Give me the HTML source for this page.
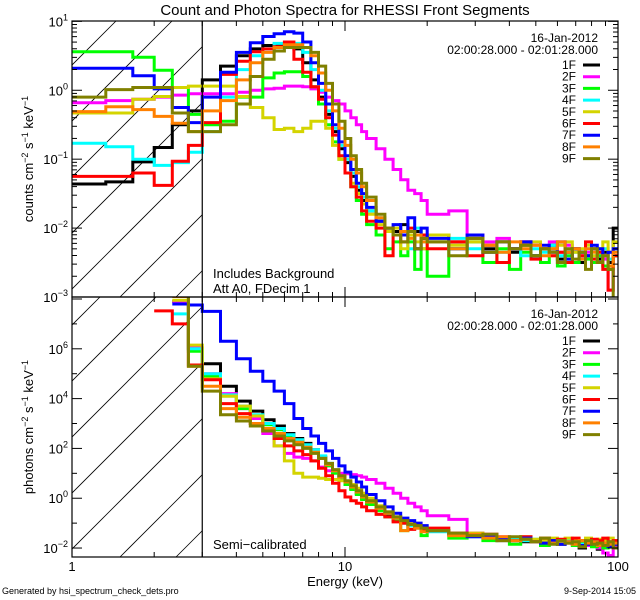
<!DOCTYPE html>
<html><head><meta charset="utf-8"><style>
html,body{margin:0;padding:0;background:#fff;}
svg{display:block;font-family:"Liberation Sans",sans-serif;}
</style></head><body>
<svg id="chart" width="640" height="600" viewBox="0 0 640 600" xmlns="http://www.w3.org/2000/svg">
<defs>
<clipPath id="clipTop"><rect x="72" y="21" width="546" height="276"/></clipPath>
<clipPath id="clipBot"><rect x="72" y="297" width="546" height="260"/></clipPath>
</defs>
<rect width="640" height="600" fill="#fff"/>
<text x="345" y="15" font-size="15" text-anchor="middle">Count and Photon Spectra for RHESSI Front Segments</text>
<g id="hatchTop" clip-path="url(#clipTop)"></g>
<g id="hatchBot" clip-path="url(#clipBot)"></g>
<g id="seriesTop" clip-path="url(#clipTop)"></g>
<g id="seriesBot" clip-path="url(#clipBot)"></g>
<g id="axes"></g>
<text transform="translate(33,159) rotate(-90)" font-size="13" text-anchor="middle">counts cm<tspan dy="-5" font-size="9">−2</tspan><tspan dy="5"> s</tspan><tspan dy="-5" font-size="9">−1</tspan><tspan dy="5"> keV</tspan><tspan dy="-5" font-size="9">−1</tspan></text>
<text transform="translate(33,427) rotate(-90)" font-size="13" text-anchor="middle">photons cm<tspan dy="-5" font-size="9">−2</tspan><tspan dy="5"> s</tspan><tspan dy="-5" font-size="9">−1</tspan><tspan dy="5"> keV</tspan><tspan dy="-5" font-size="9">−1</tspan></text>
<text x="345" y="586" font-size="13" text-anchor="middle">Energy (keV)</text>
<text x="213" y="278" font-size="13">Includes Background</text>
<text x="213" y="293" font-size="13">Att A0, FDecim 1</text>
<text x="213" y="549" font-size="13">Semi−calibrated</text>
<text x="2" y="594" font-size="9">Generated by hsi_spectrum_check_dets.pro</text>
<text x="636" y="594" font-size="9" text-anchor="end">9-Sep-2014 15:05</text>
</svg>
<script>
const edges = [1,1.33,1.67,2,2.33,2.67,3,3.5,4,4.5,5,5.5,6,6.5,7,7.5,8,8.5,9,9.5,10,10.5,11,11.5,12,13,14,15,16,17,18,19,20,24,28,32,36,40,44,48,52,56,60,64,68,72,76,80,84,88,92,96,100];
const detNames = ["1F","2F","3F","4F","5F","6F","7F","8F","9F"];
const detColors = ["#000000","#ff00ff","#00ff00","#00ffff","#d4d400","#ff0000","#0000ff","#ff8000","#808000"];
// log10 counts
const cnt1F = [-1.36,-1.33,-1.04,-0.83,-0.5,-0.3,0.15,0.35,0.5,0.6,0.65,0.66,0.66,0.6,0.4,0.15,-0.1,-0.35,-0.6,-0.85,-1.05,-1.25,-1.45,-1.6,-1.75,-1.9,-2.0,-2.05,-1.95,-2.1,-2.05,-2.15,-2.1,-2.2,-2.15,-2.3,-2.2,-2.35,-2.25,-2.4,-2.3,-2.25,-2.45,-2.35,-2.3,-2.5,-2.4,-2.3,-2.45,-2.35,-2.5,-2.0];
const cnt2F = [-0.18,-0.15,-0.13,-0.1,-0.07,-0.05,-0.05,-0.05,-0.03,0.0,0.02,0.03,0.06,0.06,0.05,0.02,-0.03,-0.1,-0.15,-0.2,-0.3,-0.4,-0.5,-0.6,-0.7,-0.85,-1.0,-1.15,-1.3,-1.45,-1.5,-1.6,-1.8,-1.75,-2.1,-2.2,-2.15,-2.3,-2.2,-2.25,-2.3,-2.2,-2.35,-2.25,-2.3,-2.4,-2.35,-2.3,-2.4,-2.45,-2.9,-2.4];
const cnt3F = [0.56,0.56,0.48,0.29,0.04,-0.35,-0.5,-0.45,-0.1,-0.1,0.18,0.25,0.27,0.27,0.2,0.05,-0.2,-0.5,-0.75,-1.0,-1.2,-1.4,-1.6,-1.8,-1.95,-2.1,-2.3,-2.2,-2.4,-2.2,-2.6,-2.3,-2.7,-2.3,-2.2,-2.5,-2.3,-2.6,-2.35,-2.4,-2.5,-2.3,-2.55,-2.4,-2.5,-2.35,-2.45,-2.5,-2.4,-2.55,-2.6,-2.4];
const cnt4F = [-0.77,-0.82,-1.0,-1.09,-1.05,-0.9,-0.6,-0.1,0.3,0.5,0.6,0.68,0.68,0.68,0.55,0.3,0.0,-0.3,-0.55,-0.8,-1.0,-1.2,-1.4,-1.55,-1.75,-1.85,-2.0,-2.1,-2.05,-2.3,-2.0,-2.2,-2.2,-2.15,-2.3,-2.25,-2.35,-2.3,-2.4,-2.3,-2.35,-2.25,-2.4,-2.3,-2.35,-2.45,-2.3,-2.4,-2.35,-2.3,-2.45,-2.3];
const cnt5F = [-0.33,-0.33,-0.13,-0.09,0.04,0.06,0.06,0.06,-0.09,-0.25,-0.4,-0.57,-0.55,-0.6,-0.55,-0.45,-0.45,-0.55,-0.8,-1.0,-1.2,-1.35,-1.5,-1.65,-1.8,-1.95,-2.05,-2.0,-2.3,-2.1,-2.2,-2.3,-2.1,-2.25,-2.2,-2.35,-2.2,-2.3,-2.25,-2.2,-2.3,-2.4,-2.25,-2.2,-2.35,-2.3,-2.25,-2.4,-2.3,-2.2,-2.35,-2.2];
const cnt6F = [-1.25,-1.25,-1.2,-1.38,-1.03,-0.8,-0.47,0.23,0.42,0.56,0.6,0.63,0.7,0.45,0.26,0.05,-0.13,-0.4,-0.65,-0.95,-1.2,-1.4,-1.55,-1.75,-1.9,-2.0,-2.4,-2.1,-2.2,-2.0,-2.3,-2.1,-2.3,-2.2,-2.4,-2.25,-2.5,-2.3,-2.2,-2.45,-2.3,-2.4,-2.35,-2.5,-2.3,-2.4,-2.2,-2.45,-2.35,-2.6,-2.9,-2.4];
const cnt7F = [0.32,0.32,0.21,0.02,-0.25,-0.47,-0.1,0.26,0.55,0.69,0.78,0.82,0.85,0.83,0.7,0.4,0.1,-0.2,-0.5,-0.75,-0.95,-1.15,-1.35,-1.5,-1.7,-1.9,-2.0,-1.95,-2.1,-1.85,-2.3,-2.0,-2.15,-2.3,-2.1,-2.35,-2.2,-2.3,-2.2,-2.4,-2.25,-2.35,-2.2,-2.45,-2.3,-2.35,-2.4,-2.25,-2.3,-2.4,-2.35,-2.3];
const cnt8F = [-0.31,-0.24,-0.28,-0.38,-0.48,-0.6,-0.3,-0.15,0.15,0.4,0.55,0.62,0.66,0.66,0.62,0.5,0.25,0.0,-0.3,-0.55,-0.8,-1.0,-1.2,-1.4,-1.6,-1.85,-2.0,-2.1,-2.05,-2.15,-2.1,-2.2,-2.2,-2.3,-2.15,-2.25,-2.35,-2.2,-2.3,-2.25,-2.4,-2.3,-2.2,-2.35,-2.3,-2.45,-2.3,-2.35,-2.5,-2.4,-2.55,-2.35];
const cnt9F = [-0.1,0.01,0.04,0.04,-0.33,-0.6,-0.6,-0.5,-0.2,0.2,0.45,0.57,0.62,0.62,0.62,0.55,0.35,0.1,-0.2,-0.45,-0.7,-0.95,-1.15,-1.35,-1.55,-1.8,-2.0,-2.1,-2.2,-2.05,-2.3,-2.15,-2.2,-2.4,-2.15,-2.35,-2.2,-2.3,-2.25,-2.4,-2.3,-2.35,-2.5,-2.3,-2.45,-2.35,-2.6,-2.3,-2.5,-2.4,-2.6,-3.1];
// log10 photons
const pho1F = [null,null,null,null,7.9,6.0,5.4,4.5,3.9,3.5,3.15,2.9,2.6,2.4,2.2,1.95,1.65,1.35,1.05,0.8,0.6,0.4,0.2,0.0,-0.2,-0.45,-0.7,-0.85,-1.0,-1.05,-1.15,-1.2,-1.3,-1.45,-1.5,-1.55,-1.7,-1.6,-1.75,-1.7,-1.8,-1.65,-1.85,-1.75,-1.8,-2.0,-1.85,-1.9,-2.05,-1.85,-1.95,-1.9];
const pho2F = [null,null,null,null,7.9,6.05,5.0,4.2,3.6,3.2,2.6,2.1,1.8,1.65,1.6,1.5,1.25,1.1,1.05,1.0,0.98,0.95,0.9,0.85,0.75,0.6,0.4,0.2,0.0,-0.2,-0.35,-0.5,-0.7,-0.85,-1.4,-1.5,-1.55,-1.65,-1.6,-1.7,-1.75,-1.65,-1.8,-1.75,-1.85,-1.8,-1.9,-1.85,-2.0,-2.2,-2.3,-1.9];
const pho3F = [null,null,null,null,8.3,5.9,4.9,4.1,3.6,3.3,2.95,2.75,2.5,2.3,2.1,1.9,1.6,1.3,1.0,0.75,0.55,0.35,0.15,-0.05,-0.25,-0.5,-0.75,-0.9,-1.3,-1.1,-1.2,-1.5,-1.3,-1.6,-1.5,-1.7,-1.6,-1.85,-1.7,-1.75,-1.9,-1.7,-1.8,-1.75,-1.9,-1.8,-1.85,-1.95,-1.8,-2.0,-1.9,-1.85];
const pho4F = [null,null,null,null,7.4,6.0,5.0,4.15,3.7,3.35,3.0,2.8,2.55,2.35,2.15,1.95,1.7,1.4,1.1,0.85,0.65,0.45,0.25,0.05,-0.15,-0.4,-0.6,-0.8,-0.95,-1.1,-1.15,-1.25,-1.35,-1.45,-1.55,-1.5,-1.65,-1.6,-1.7,-1.65,-1.75,-1.7,-1.8,-1.7,-1.75,-1.85,-1.7,-1.8,-1.75,-1.7,-1.85,-1.75];
const pho5F = [null,null,null,null,7.95,6.15,4.8,4.1,3.7,3.3,2.8,2.1,1.5,1.0,0.85,0.85,0.8,0.75,0.75,0.7,0.65,0.55,0.4,0.2,0.0,-0.3,-0.55,-0.75,-0.9,-1.0,-1.1,-1.2,-1.3,-1.5,-1.4,-1.55,-1.6,-1.7,-1.55,-1.65,-1.7,-1.6,-1.75,-1.6,-1.65,-1.7,-1.6,-1.75,-1.65,-1.7,-1.6,-1.7];
const pho6F = [null,null,null,7.52,7.0,5.35,4.76,3.8,3.4,3.0,2.7,2.4,2.1,1.9,1.75,1.5,1.2,0.9,0.6,0.3,0.05,-0.1,-0.2,-0.35,-0.5,-0.65,-0.75,-0.95,-1.0,-1.25,-1.1,-1.3,-1.2,-1.4,-1.5,-1.45,-1.6,-1.7,-1.55,-1.75,-1.6,-1.7,-1.65,-1.8,-1.6,-1.7,-1.75,-1.65,-1.7,-1.6,-1.75,-1.7];
const pho7F = [null,null,null,null,7.8,7.76,7.5,6.3,5.6,5.1,4.7,4.3,3.8,3.2,2.8,2.5,2.2,1.9,1.6,1.3,1.05,0.85,0.65,0.45,0.15,-0.1,-0.35,-0.6,-0.8,-0.9,-1.0,-1.1,-1.3,-1.45,-1.55,-1.5,-1.65,-1.7,-1.6,-1.75,-1.8,-1.7,-1.85,-1.75,-1.8,-1.9,-1.85,-1.75,-1.9,-1.85,-1.95,-1.85];
const pho8F = [null,null,null,null,8.1,5.3,4.5,3.6,3.25,3.0,2.8,2.6,2.4,2.25,2.05,1.85,1.6,1.35,1.1,0.85,0.65,0.45,0.25,0.05,-0.15,-0.4,-0.6,-0.8,-1.3,-1.05,-1.2,-1.35,-1.3,-1.5,-1.45,-1.6,-1.55,-1.7,-1.65,-1.75,-1.6,-1.8,-1.7,-1.75,-1.85,-1.7,-1.8,-1.75,-1.9,-1.8,-1.85,-1.8];
const pho9F = [null,null,null,null,8.5,5.3,4.3,3.35,3.1,2.9,2.7,2.5,2.3,2.15,2.0,1.8,1.6,1.4,1.15,0.9,0.7,0.5,0.3,0.1,-0.1,-0.35,-0.55,-0.75,-0.9,-1.05,-1.1,-1.2,-1.3,-1.4,-1.5,-1.45,-1.7,-1.55,-1.65,-1.75,-1.6,-1.85,-1.7,-1.8,-1.75,-1.95,-1.7,-1.85,-1.8,-1.9,-1.75,-2.0];
const countSeries = [cnt1F,cnt2F,cnt3F,cnt4F,cnt5F,cnt6F,cnt7F,cnt8F,cnt9F];
const photonSeries = [pho1F,pho2F,pho3F,pho4F,pho5F,pho6F,pho7F,pho8F,pho9F];
const topYTicks = [1,0,-1,-2,-3];
const botYTicks = [6,4,2,0,-2];
const xTickLabels = ["1","10","100"];
const xTickValues = [1,10,100];
const dateLabel = "16-Jan-2012";
const timeLabel = "02:00:28.000 - 02:01:28.000";

const NS="http://www.w3.org/2000/svg";
const X0=72, X1=618;
const xs = e => X0 + (X1-X0)*Math.log10(e)/2;
const TOP={y0:21,y1:297,lmin:-3,lmax:1.005};
const BOT={y0:297,y1:557,lmin:-2.36,lmax:8.08};
const ys = (p,l) => p.y1 - (l-p.lmin)/(p.lmax-p.lmin)*(p.y1-p.y0);
function el(tag,attrs,parent){const e=document.createElementNS(NS,tag);for(const k in attrs)e.setAttribute(k,attrs[k]);parent.appendChild(e);return e;}
const svg=document.getElementById('chart');

// hatching
function hatch(gid,p){
  const g=document.getElementById(gid);
  const xr=xs(3);
  for(let c=-400;c<400;c+=56){
    // line x - (y0 - y) ... 45 deg: x = c + (p.y1 - y)
    const ln=el('line',{x1:X0+c,y1:p.y1,x2:X0+c+(p.y1-p.y0),y2:p.y0,stroke:'#000','stroke-width':0.8},g);
    
    
  }
  const cp=el('rect',{x:xr,y:p.y0,width:X1-xr,height:p.y1-p.y0,fill:'#fff'},g);
  
  
}
hatch('hatchTop',TOP);hatch('hatchBot',BOT);

function drawSeries(gid,p,series,prefix){
  const g=document.getElementById(gid);
  series.forEach((vals,i)=>{
    let d='',prev=null;
    for(let b=0;b<vals.length;b++){
      const v=vals[b];
      if(v===null){prev=null;continue;}
      const xa=xs(edges[b]),xb=xs(edges[b+1]),y=ys(p,v);
      if(prev===null)d+='M'+xa.toFixed(1)+' '+y.toFixed(1);
      else d+='L'+xa.toFixed(1)+' '+y.toFixed(1);
      d+='L'+xb.toFixed(1)+' '+y.toFixed(1);
      prev=v;
    }
    const path=el('path',{d:d,fill:'none',stroke:detColors[i],'stroke-width':3,'stroke-linejoin':'miter'},g);
    
    
  });
}
drawSeries('seriesTop',TOP,countSeries,'count-series');
drawSeries('seriesBot',BOT,photonSeries,'photon-series');

const ax=document.getElementById('axes');
function frame(p,name,yt,minorOdd,labelsX){
  const r=el('rect',{x:X0,y:p.y0,width:X1-X0,height:p.y1-p.y0,fill:'none',stroke:'#000','stroke-width':1.2},ax);
  
  
  // vertical 3 keV line
  const vl=el('line',{x1:xs(3),y1:p.y0,x2:xs(3),y2:p.y1,stroke:'#000','stroke-width':1.2},ax);
  
  
  // x ticks
  for(let dec=0;dec<2;dec++){for(let m=1;m<=9;m++){
    const e=Math.pow(10,dec)*m; if(e>100)continue; const x=xs(e); const L=(m===1)?10:5;
    el('line',{x1:x,y1:p.y1,x2:x,y2:p.y1-L,stroke:'#000'},ax);
    el('line',{x1:x,y1:p.y0,x2:x,y2:p.y0+L,stroke:'#000'},ax);
  }}
  // y ticks
  const lo=Math.ceil(p.lmin),hi=Math.floor(p.lmax);
  for(let l=lo;l<=hi;l++){
    const y=ys(p,l);
    const major=minorOdd?(l%2===0):true;
    const L=major?10:5;
    el('line',{x1:X0,y1:y,x2:X0+L,y2:y,stroke:'#000'},ax);
    el('line',{x1:X1,y1:y,x2:X1-L,y2:y,stroke:'#000'},ax);
    if(!minorOdd){for(let m=2;m<=9;m++){const yy=ys(p,l+Math.log10(m)); if(yy<p.y0)continue;
      el('line',{x1:X0,y1:yy,x2:X0+5,y2:yy,stroke:'#000'},ax);
      el('line',{x1:X1,y1:yy,x2:X1-5,y2:yy,stroke:'#000'},ax);}}
  }
  yt.forEach(l=>{
    const t=el('text',{x:X0-4,y:ys(p,l)+5,'font-size':13,'text-anchor':'end'},ax);
    
    
    t.textContent='10';
    const s=el('tspan',{dy:-6,'font-size':9},t); s.textContent=(l<0?'−'+(-l):String(l));
  });
  // date/legend
  const d1=el('text',{x:598,y:p.y0+21,'font-size':12,'text-anchor':'end'},ax); d1.textContent=dateLabel;
  
  
  const d2=el('text',{x:598,y:p.y0+33,'font-size':12,'text-anchor':'end'},ax); d2.textContent=timeLabel;
  
  
  detNames.forEach((n,i)=>{
    const y=p.y0+44+i*11.7;
    const t=el('text',{x:576,y:y+4,'font-size':12,'text-anchor':'end'},ax); t.textContent=n;
    
    
    const ln=el('line',{x1:583,y1:y,x2:600,y2:y,stroke:detColors[i],'stroke-width':3},ax);
    
    
  });
}
frame(TOP,'count-panel',topYTicks,false);
frame(BOT,'photon-panel',botYTicks,true);
xTickValues.forEach((v,i)=>{
  const t=el('text',{x:xs(v),y:571,'font-size':13,'text-anchor':'middle'},ax);
  
  
  t.textContent=xTickLabels[i];
});
</script>
</body></html>
